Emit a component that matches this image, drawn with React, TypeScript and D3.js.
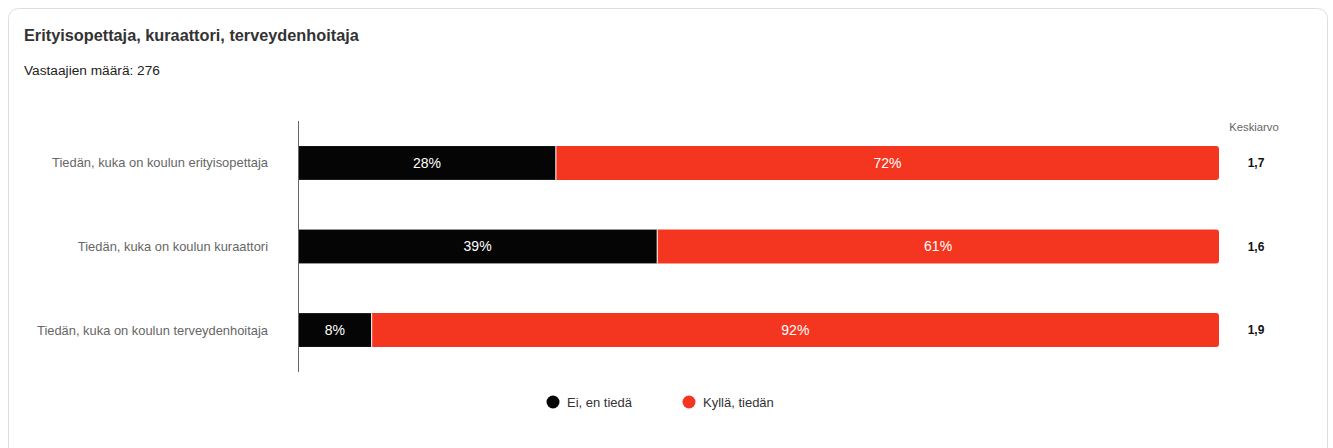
import React from "react";
import * as d3 from "d3";

const categories = [
  "Tiedän, kuka on koulun erityisopettaja",
  "Tiedän, kuka on koulun kuraattori",
  "Tiedän, kuka on koulun terveydenhoitaja",
];
const seriesNames = ["Ei, en tiedä", "Kyllä, tiedän"];
const eiValues = [28, 39, 8];
const kyllaValues = [72, 61, 92];
const averages = ["1,7", "1,6", "1,9"];
const colors = ["#050505", "#f43620"];

const W = 1333;
const H = 448;
const FONT = "'Liberation Sans', Arial, sans-serif";

function roundRightPath(x0: number, x1: number, y: number, h: number, r: number) {
  return `M${x0},${y}H${x1 - r}Q${x1},${y} ${x1},${y + r}V${y + h - r}Q${x1},${y + h} ${x1 - r},${y + h}H${x0}Z`;
}

export default function App() {
  const x = d3.scaleLinear().domain([0, 100]).range([298, 1219]);
  const y = d3.scaleBand().domain(categories).range([121, 372]).paddingInner(0.595).paddingOuter(0.3);
  const bh = y.bandwidth();
  const rows = categories.map((c, i) => ({ c, vals: [eiValues[i], kyllaValues[i]], avg: averages[i] }));

  return (
    <svg width={W} height={H} style={{ position: "absolute", left: 0, top: 0, fontFamily: FONT }}>
      <rect x={8.5} y={8.5} width={1319} height={460} rx={10} fill="#fff" stroke="#dedede" />
      <text x={24} y={41} fontSize={16.3} fontWeight="bold" fill="#333">Erityisopettaja, kuraattori, terveydenhoitaja</text>
      <text x={24} y={75} fontSize={13.7} fill="#222">Vastaajien määrä: 276</text>
      <text x={1254} y={131} fontSize={11.3} fill="#666" textAnchor="middle">Keskiarvo</text>
      {rows.map((r, i) => {
        const y0 = y(r.c)!;
        let acc = 0;
        return (
          <g key={r.c}>
            <text x={268} y={y0 + bh / 2} dy="0.35em" fontSize={12.9} fill="#666" textAnchor="end">{r.c}</text>
            {r.vals.map((v, j) => {
              const a = acc;
              acc += v;
              const xa = x(a);
              const xb = x(a + v);
              const isLast = j === r.vals.length - 1;
              return (
                <g key={j}>
                  {isLast ? (
                    <path d={roundRightPath(xa, xb, y0, bh, 3)} fill={colors[j]} />
                  ) : (
                    <rect x={xa} y={y0} width={xb - xa} height={bh} fill={colors[j]} />
                  )}
                  {j > 0 && <line x1={xa} x2={xa} y1={y0} y2={y0 + bh} stroke="#fff" strokeWidth={1} />}
                  <text x={(xa + xb) / 2} y={y0 + bh / 2} dy="0.35em" fontSize={14} fill="#fff" textAnchor="middle">{v}%</text>
                </g>
              );
            })}
            <text x={1256} y={y0 + bh / 2} dy="0.35em" fontSize={12} fontWeight="bold" fill="#111" textAnchor="middle">{r.avg}</text>
          </g>
        );
      })}
      <line x1={298.5} x2={298.5} y1={121} y2={372} stroke="#666" strokeWidth={1} />
      {seriesNames.map((s, i) => {
        const cx = [553, 689][i];
        return (
          <g key={s}>
            <circle cx={cx} cy={402} r={6.5} fill={colors[i]} />
            <text x={cx + 14} y={402} dy="0.35em" fontSize={13} fill="#333">{s}</text>
          </g>
        );
      })}
    </svg>
  );
}
